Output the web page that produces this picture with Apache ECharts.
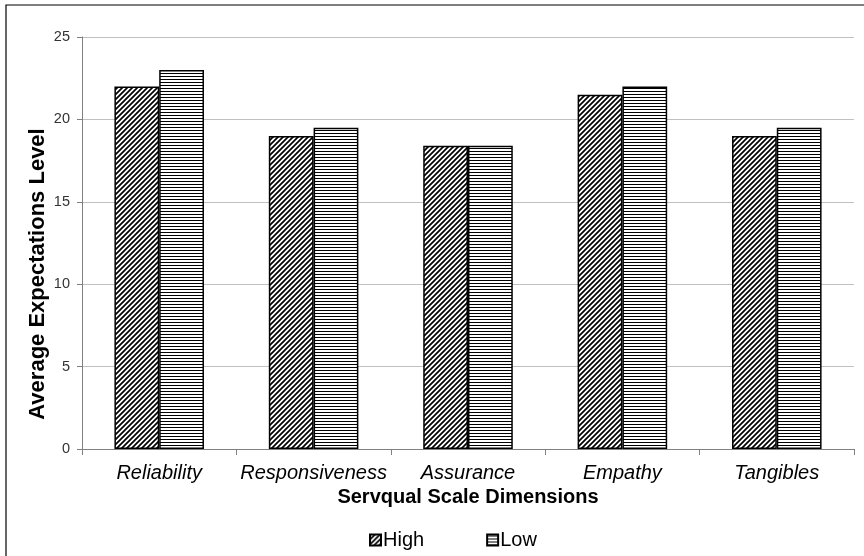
<!DOCTYPE html>
<html><head><meta charset="utf-8">
<script src="https://cdn.jsdelivr.net/npm/echarts@6/dist/echarts.min.js"></script>
<style>html,body{margin:0;padding:0;background:#fff}#c{width:864px;height:556px}</style>
</head><body><div id="c"></div>
<script>
const categories = ['Reliability', 'Responsiveness', 'Assurance', 'Empathy', 'Tangibles'];
const highValues = [22, 19, 18.4, 21.5, 19];
const lowValues = [23, 19.5, 18.4, 22, 19.5];
const yTicks = [0, 5, 10, 15, 20, 25];

function diagPattern() {
  const c = document.createElement('canvas');
  c.width = 5; c.height = 5;
  const g = c.getContext('2d');
  g.fillStyle = '#fff'; g.fillRect(0, 0, 5, 5);
  g.strokeStyle = '#000'; g.lineWidth = 1.7;
  g.beginPath();
  g.moveTo(-1, 6); g.lineTo(6, -1);
  g.moveTo(-1, 1); g.lineTo(1, -1);
  g.moveTo(4, 6); g.lineTo(6, 4);
  g.stroke();
  return c;
}
function horizPattern() {
  const c = document.createElement('canvas');
  c.width = 4; c.height = 3;
  const g = c.getContext('2d');
  g.fillStyle = '#fff'; g.fillRect(0, 0, 4, 3);
  g.fillStyle = '#000'; g.fillRect(0, 1, 4, 1);
  return c;
}

const chart = echarts.init(document.getElementById('c'), null, {renderer: 'canvas'});
const font = 'Liberation Sans, Arial, sans-serif';
chart.setOption({
  animation: false,
  backgroundColor: '#fff',
  graphic: [{type: 'rect', shape: {x: 6, y: 5, width: 900, height: 600},
    style: {fill: 'none', stroke: '#000', lineWidth: 1.2}, silent: true, z: -1}],
  grid: {left: 82, right: 10, top: 37, bottom: 107},
  legend: {
    data: ['High', 'Low'], top: 525, left: 364, itemGap: 62,
    itemWidth: 11, itemHeight: 11, icon: 'rect',
    textStyle: {fontFamily: font, fontSize: 20, color: '#000', padding: [0, 0, 0, -3]}
  },
  xAxis: {
    type: 'category', data: categories,
    name: 'Servqual Scale Dimensions', nameLocation: 'middle', nameGap: 38,
    nameMoveOverlap: false,
    nameTextStyle: {fontFamily: font, fontSize: 20, fontWeight: 'bold', color: '#000'},
    axisLine: {lineStyle: {color: '#808080', width: 1}},
    axisTick: {show: true, length: 6, lineStyle: {color: '#808080'}},
    axisLabel: {interval: 0, fontFamily: font, fontSize: 20, fontStyle: 'italic', color: '#000', margin: 14}
  },
  yAxis: {
    type: 'value', min: yTicks[0], max: yTicks[yTicks.length - 1], interval: 5,
    name: 'Average Expectations Level', nameLocation: 'middle', nameGap: 33,
    nameMoveOverlap: false,
    nameTextStyle: {fontFamily: font, fontSize: 22, fontWeight: 'bold', color: '#000', padding: [0, 62, 0, 0]},
    axisLine: {show: true, lineStyle: {color: '#808080', width: 1}},
    axisTick: {show: true, length: 5, lineStyle: {color: '#808080'}},
    axisLabel: {fontFamily: font, fontSize: 14.5, color: '#333', margin: 12},
    splitLine: {lineStyle: {color: '#c0c0c0', width: 1}}
  },
  series: [
    {name: 'High', type: 'bar', data: highValues, barGap: '0%', barCategoryGap: '42%',
      itemStyle: {color: {image: diagPattern(), repeat: 'repeat'}, borderColor: '#000', borderWidth: 1.5}},
    {name: 'Low', type: 'bar', data: lowValues,
      itemStyle: {color: {image: horizPattern(), repeat: 'repeat'}, borderColor: '#000', borderWidth: 1.5}}
  ]
});
</script></body></html>
